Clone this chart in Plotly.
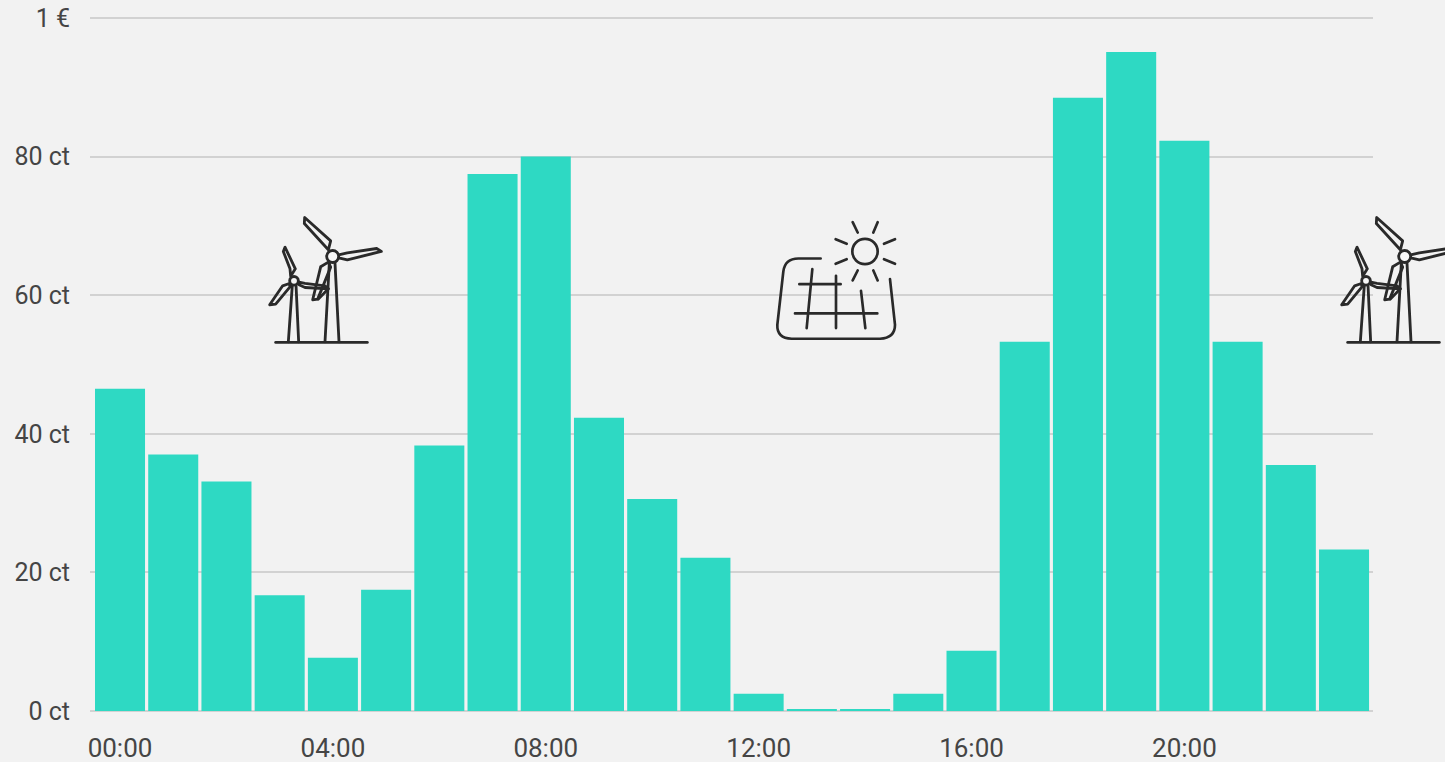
import base64
import plotly.graph_objects as go

hours = [f"{h:02d}:00" for h in range(24)]
prices_ct = [46.5, 37.0, 33.1, 16.7, 7.7, 17.5, 38.3, 77.5, 80.0, 42.3, 30.6, 22.1,
             2.5, 0.3, 0.3, 2.5, 8.7, 53.3, 88.5, 95.1, 82.3, 53.3, 35.5, 23.3]
x_ticks = ["00:00", "04:00", "08:00", "12:00", "16:00", "20:00"]
y_ticks = [0, 20, 40, 60, 80, 100]
y_labels = ["0 ct", "20 ct", "40 ct", "60 ct", "80 ct", "1 €"]

W, H = 1445, 762
L, R, T, B = 90, 72, 0, 50.5
INK = "#2a2a2a"


def poly(p):
    return f'<polygon points="{p}" fill="none"/>'


WIND_SVG = f'''<svg xmlns="http://www.w3.org/2000/svg" width="130" height="150" viewBox="0 0 390 450">
<g stroke="{INK}" stroke-width="8.5" stroke-linejoin="round" stroke-linecap="round" fill="none">
<path d="M47 413H322"/>
<path d="M208 175L195 411M225 175L237 411M97 240L85 411M108 240L116 411"/>
{poly("205,135 212,108 134,38 133,56")}
{poly("236,150 262,144 350,131 364,140 262,165 236,159")}
{poly("205,172 182,186 158,285 173,283 212,187")}
<path d="M175 283L205 252"/>
{poly("92,214 106,192 75,127 70,140 90,192")}
{poly("117,232 135,236 195,243 205,252 135,248 117,240")}
{poly("88,236 68,243 29,300 47,298 90,246")}
<circle cx="218" cy="155" r="18" fill="#f7f7f7"/>
<circle cx="102" cy="228" r="13" fill="#f7f7f7"/>
</g></svg>'''

SOLAR_SVG = f'''<svg xmlns="http://www.w3.org/2000/svg" width="135" height="140" viewBox="0 0 405 420">
<g stroke="{INK}" stroke-width="8" stroke-linejoin="round" stroke-linecap="round" fill="none">
<circle cx="285" cy="125" r="38"/>
<path d="M248 37L263 68M323 37L310 68M197 88L230 102M375 88L342 102M197 162L230 148M375 162L342 148M248 212L263 182M323 212L310 182"/>
<path d="M152 146H85Q45 146 40 185L22 345Q20 385 65 387H330Q375 385 375 345L360 208"/>
<path d="M88 223H212M75 311H322M127 178L110 355M198 198V355M273 243L286 355"/>
</g></svg>'''


def uri(svg):
    return "data:image/svg+xml;base64," + base64.b64encode(svg.encode()).decode()


def icon(svg, px, py, w, h):
    pw, ph = W - L - R, H - T - B
    return dict(source=uri(svg), xref="paper", yref="paper",
                x=(px - L) / pw, y=1 - (py - T) / ph,
                sizex=w / pw, sizey=h / ph, xanchor="left", yanchor="top",
                sizing="stretch", layer="above")


fig = go.Figure(go.Bar(x=hours, y=prices_ct, marker=dict(color="#2ed9c3", line_width=0),
                       hoverinfo="skip"))

font = dict(family="Roboto, sans-serif", size=26, color="#454545")
fig.update_layout(
    width=W, height=H, autosize=False,
    margin=dict(l=L, r=R, t=T, b=B, pad=0),
    paper_bgcolor="#f2f2f2", plot_bgcolor="#f2f2f2",
    showlegend=False, bargap=0.06, font=font,
    images=[icon(WIND_SVG, 260, 205, 130, 150),
            icon(SOLAR_SVG, 770, 210, 135, 140),
            icon(WIND_SVG, 1332, 205, 130, 150)],
    xaxis=dict(type="category", categoryorder="array", categoryarray=hours,
               range=[-0.564, 23.544], tickmode="array", tickvals=x_ticks, ticktext=x_ticks,
               tickfont=dict(size=26),
               showgrid=False, zeroline=False, showline=False, ticks="", tickangle=0,
               ticklabelstandoff=19, fixedrange=True, automargin=False),
    yaxis=dict(range=[0, 102.6], tickmode="array", tickvals=y_ticks, ticktext=y_labels,
               tickfont=dict(size=25),
               showgrid=True, gridcolor="#d2d2d2", gridwidth=2, zeroline=True,
               zerolinecolor="#d2d2d2", zerolinewidth=2, showline=False, ticks="",
               ticklabelstandoff=19, fixedrange=True, automargin=False),
)

fig.write_html("out.html", config={"displayModeBar": False},
               post_script="document.body.style.margin='0';document.body.style.overflow='hidden';")
